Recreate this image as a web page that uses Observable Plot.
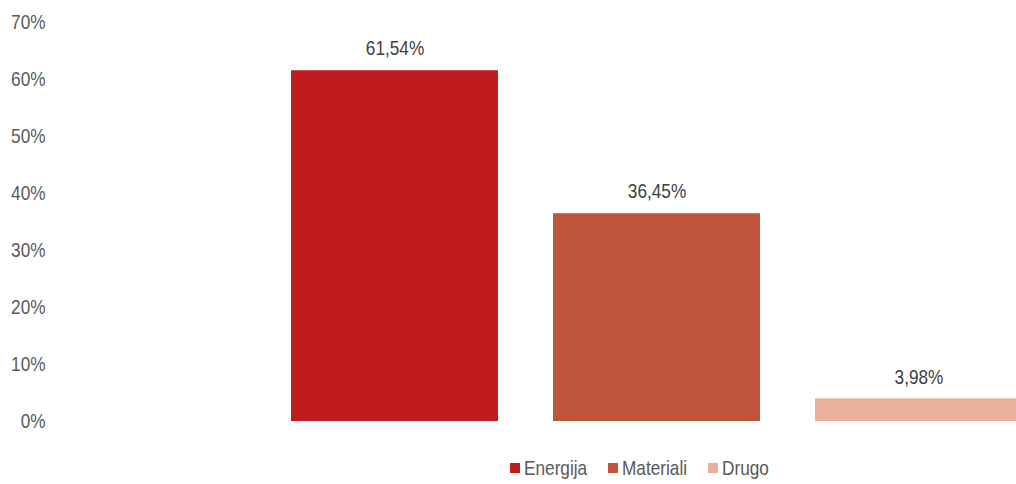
<!DOCTYPE html>
<html>
<head>
<meta charset="utf-8">
<script src="https://cdn.jsdelivr.net/npm/d3@7"></script>
<script src="https://cdn.jsdelivr.net/npm/@observablehq/plot@0.6"></script>
<style>
  html, body { margin: 0; padding: 0; background: #fff; overflow: hidden; width: 1016px; height: 484px; }
  #chart svg { overflow: hidden; display: block; }
  .legend { position: relative; height: 44px; font-family: "Liberation Sans", Arial, sans-serif; font-size: 21px; color: #595959; }
  .legend .sw { position: absolute; top: 23px; width: 10px; height: 10px; }
  .legend .lab { position: absolute; top: 15px; line-height: 26px; white-space: nowrap; transform: scaleX(0.82); transform-origin: left center; }
</style>
</head>
<body>
<div id="chart"></div>
<div class="legend" id="legend"></div>
<script>
const categories = ["Energija", "Materiali", "Drugo"];
const values = [61.54, 36.45, 3.98];
const colors = ["#C01B1D", "#C1553B", "#E9B09A"];
const yTicks = [0, 10, 20, 30, 40, 50, 60, 70];
const legendSwatchX = [510, 608, 708];

const data = categories.map((c, i) => ({category: c, value: values[i]}));
const fmt = v => v.toFixed(2).replace(".", ",") + "%";

const plot = Plot.plot({
  width: 1016,
  height: 440,
  marginTop: 22,
  marginBottom: 19,
  marginLeft: 50,
  marginRight: 0,
  style: {fontFamily: "'Liberation Sans', Arial, sans-serif", fontSize: "21px", color: "#595959", background: "#fff", overflow: "hidden"},
  x: {type: "band", domain: categories, range: [291, 1022], paddingInner: 0.21, paddingOuter: 0, axis: null},
  y: {domain: [0, 70], ticks: yTicks, tickFormat: d => d + "%", tickSize: 0, tickPadding: 5, label: null},
  color: {domain: categories, range: colors},
  marks: [
    Plot.barY(data, {x: "category", y: "value", fill: "category"}),
    Plot.text(data, {x: "category", y: "value", text: d => fmt(d.value), dy: -22, fill: "#404040", fontSize: 21})
  ]
});
// condense text horizontally (narrow face look)
const k = 0.82;
plot.querySelectorAll("text").forEach(t => {
  const tr = t.getAttribute("transform") || "";
  t.setAttribute("transform", (tr + " scale(" + k + ",1)").trim());
  const x = t.getAttribute("x");
  if (x !== null && !isNaN(+x)) t.setAttribute("x", +x / k);
});
document.getElementById("chart").appendChild(plot);

const leg = document.getElementById("legend");
categories.forEach((c, i) => {
  const sw = document.createElement("div");
  sw.className = "sw";
  sw.style.left = legendSwatchX[i] + "px";
  sw.style.background = colors[i];
  const t = document.createElement("div");
  t.className = "lab";
  t.style.left = (legendSwatchX[i] + 14) + "px";
  t.textContent = c;
  leg.appendChild(sw);
  leg.appendChild(t);
});
</script>
</body>
</html>
